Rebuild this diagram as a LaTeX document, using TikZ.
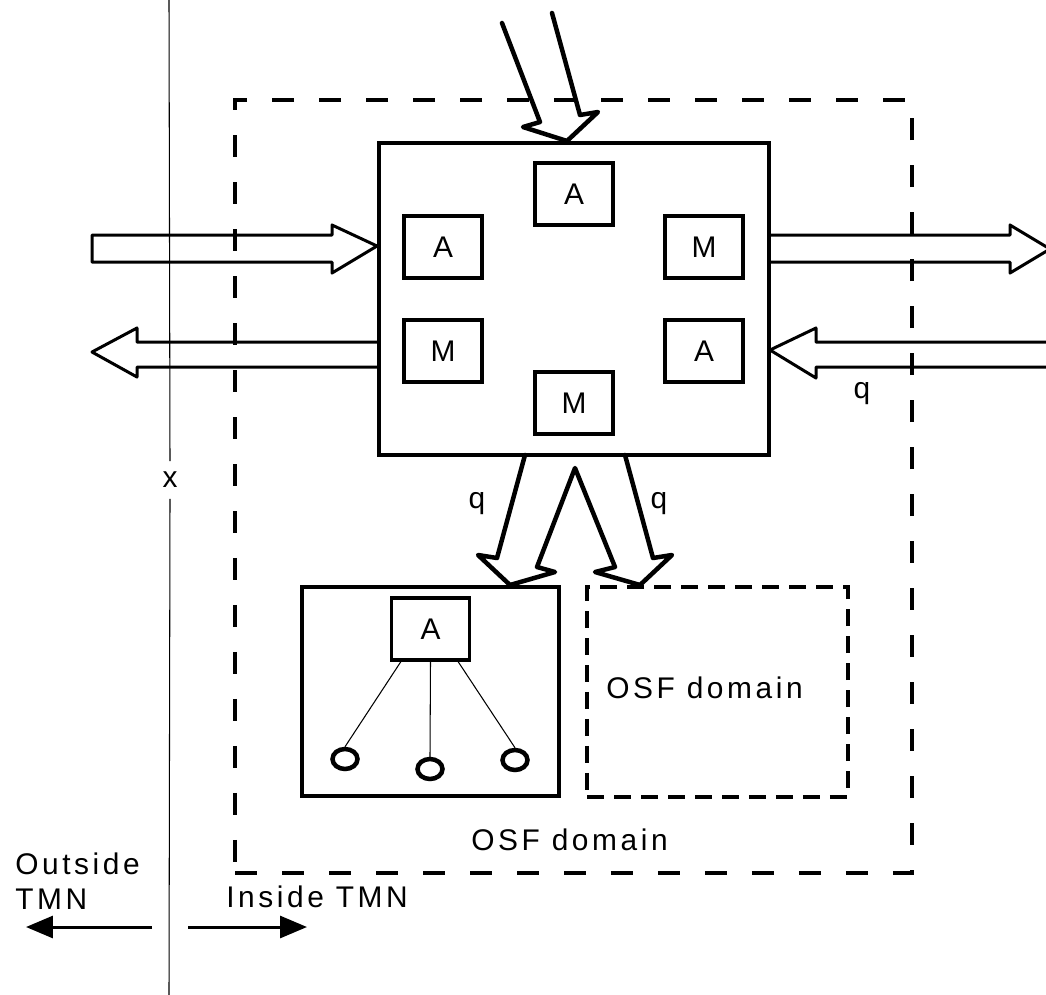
\documentclass[tikz,border=0pt]{standalone}
\usepackage{fontspec}
\setmainfont{Liberation Sans}[LetterSpace=12]
\usepackage{tikz}
\usetikzlibrary{shapes.geometric, arrows.meta, positioning}
\tikzset{
  lbl/.style={font=\fontsize{17}{20}\selectfont},
  frame/.style={rectangle, draw, line width=0.065cm, inner sep=0pt},
  smallbox/.style={rectangle, draw, line width=0.065cm,
    minimum width=1.56cm, minimum height=1.24cm, inner sep=0pt,
    font=\fontsize{17}{20}\selectfont},
  dashframe/.style={rectangle, draw, line width=0.08cm, inner sep=0pt,
    dash pattern=on 0.44cm off 0.5cm},
  dashbox/.style={rectangle, draw, line width=0.08cm, inner sep=0pt,
    dash pattern=on 0.34cm off 0.2cm},
  leaf/.style={ellipse, draw, line width=0.09cm, inner sep=0pt,
    minimum width=0.5cm, minimum height=0.4cm},
  hollow/.style={line width=0.06cm, line join=round},
  fatlink/.style={line width=0.09cm, line join=round, line cap=round},
  hairline/.style={line width=0.6pt},
  dirarrow/.style={-{Triangle[length=0.54cm, width=0.44cm]}, line width=0.06cm}
}
\begin{document}
\begin{tikzpicture}[x=0.02cm, y=-0.02cm]
  \useasboundingbox (0,0) rectangle (1046,995);
  % TMN boundary
  \node[dashframe, minimum width=13.54cm, minimum height=15.46cm] (tmn) at (573.5,486.5) {};
  \node[lbl, anchor=base west, inner sep=0pt] (tmnlab) at (471,850) {OSF domain};
  % central OSF block
  \node[frame, minimum width=7.8cm, minimum height=6.24cm] (osf) at (574,299) {};
  \node[smallbox, below=0.4cm of osf.north] (a1) {A};
  \node[smallbox, below right=1.46cm and 0.5cm of osf.north west] (a2) {A};
  \node[smallbox, below left=1.46cm and 0.52cm of osf.north east] (m1) {M};
  \node[smallbox, above right=1.46cm and 0.5cm of osf.south west] (m2) {M};
  \node[smallbox, above left=1.46cm and 0.52cm of osf.south east] (a3) {A};
  \node[smallbox, above=0.42cm of osf.south] (m3) {M};
  % subordinate domains
  \node[frame, minimum width=5.14cm, minimum height=4.18cm] (dom) at (430.5,691.5) {};
  \node[smallbox, below=0.22cm of dom.north] (a4) {A};
  \node[leaf] (c1) at (345,759) {};
  \node[leaf] (c2) at (430,769) {};
  \node[leaf] (c3) at (515,760) {};
  \draw[hairline] ([xshift=0.22cm]a4.south west) -- (c1.north);
  \draw[hairline] (a4.south) -- (c2.north);
  \draw[hairline] ([xshift=-0.26cm]a4.south east) -- (c3.north);
  \node[dashbox, minimum width=5.22cm, minimum height=4.2cm] (dom2) at (717.5,692) {};
  \node[lbl, anchor=base west, inner sep=0pt] (dom2lab) at (606,698) {OSF domain};
  % interfaces to the left and right
  \draw[hollow] (92,235) -- (332,235) -- (332,225) -- (377,246) -- (332,273) -- (332,262) -- (92,262) -- cycle;
  \draw[hollow] (379,342) -- (137,342) -- (137,328) -- (92,352) -- (137,377) -- (137,367) -- (379,367);
  \draw[hollow] (769,235) -- (1010,235) -- (1010,225) -- (1050,249) -- (1010,273) -- (1010,262) -- (769,262);
  \draw[hollow] (1048,342) -- (816,342) -- (816,328) -- (770,350) -- (816,378) -- (816,367) -- (1048,367);
  \node[lbl, anchor=base, inner sep=0pt] (q3) at (862,398) {q};
  % input from above
  \draw[fatlink] (502,23) -- (540,122) -- (523,127) -- (567,141) -- (598,112) -- (580,115) -- (552,13);
  % q links down to the domains
  \draw[fatlink] (525,455) -- (497,558) -- (478,555) -- (510,585) -- (555,572) -- (537,567) -- (575,468)
    -- (615,567) -- (595,572) -- (640,585) -- (672,555) -- (653,558) -- (625,455);
  \node[lbl, anchor=base, inner sep=0pt] (q1) at (477,508) {q};
  \node[lbl, anchor=base, inner sep=0pt] (q2) at (659,508) {q};
  % reference point x
  \coordinate (xtop) at (169,0);
  \coordinate (xbot) at (169,995);
  \node[lbl, minimum height=0.74cm, inner sep=0pt] (xref) at (170,480) {x};
  \draw[hairline] (xtop) -- (xref.north);
  \draw[hairline] (xref.south) -- (xbot);
  % outside / inside
  \node[lbl, align=left, anchor=north west, inner sep=0pt] (outlab) at (15,852) {Outside\\TMN};
  \node[lbl, anchor=base west, inner sep=0pt] (inlab) at (226,907) {Inside TMN};
  \coordinate (o1) at (152,927);
  \coordinate (o2) at (26,927);
  \coordinate (i1) at (188,927);
  \coordinate (i2) at (307,927);
  \draw[dirarrow] (o1) -- (o2);
  \draw[dirarrow] (i1) -- (i2);
\end{tikzpicture}
\end{document}
